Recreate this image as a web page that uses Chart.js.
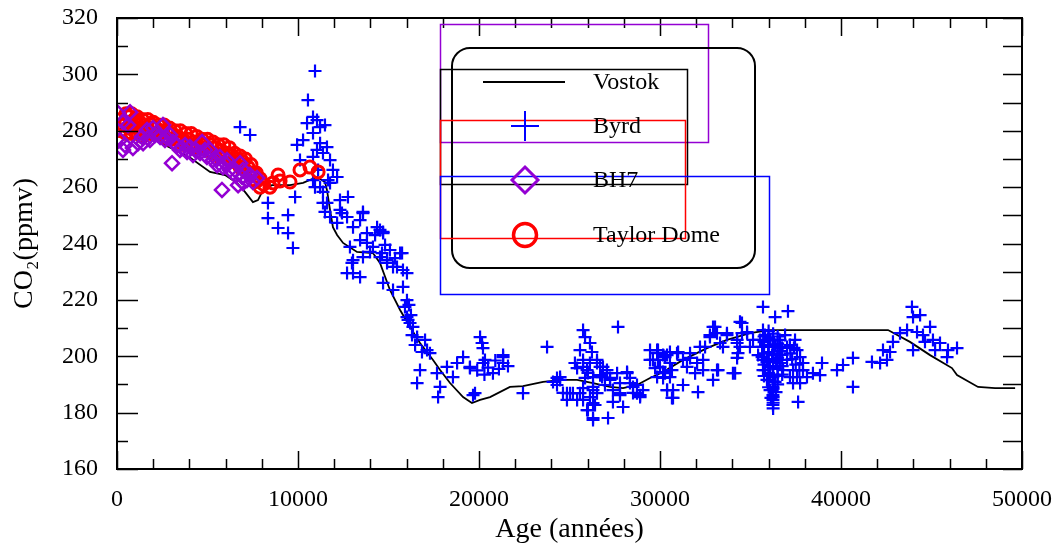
<!DOCTYPE html>
<html>
<head>
<meta charset="utf-8">
<script src="https://cdn.jsdelivr.net/npm/chart.js@4.4.1/dist/chart.umd.min.js"></script>
<style>
  html, body { margin: 0; padding: 0; background: #fff; }
  canvas { display: block; }
</style>
</head>
<body>
<canvas id="co2" width="1057" height="546"></canvas>
<script>
// tick labels
const xTicks = [0, 10000, 20000, 30000, 40000, 50000];
const yTicks = [160, 180, 200, 220, 240, 260, 280, 300, 320];

// Vostok: [age, co2]
const vostok = [
  [0, 281], [1820, 277.5], [4030, 270.5], [5140, 265.4], [5970, 264.3], [6630, 261.5],
  [7070, 258.3], [7510, 254.7], [7790, 255.4], [8070, 259.0], [8560, 260.7], [9560, 260.7],
  [10280, 261.5], [11050, 263.6], [11490, 261.8], [11600, 259.0], [11770, 251.9], [11930, 245.8],
  [12160, 243.0], [12490, 240.2], [13260, 237.0], [14140, 236.6], [14530, 233.1], [15080, 223.5],
  [15640, 216.4], [16190, 210.4], [16740, 204.7], [17460, 198.7], [17850, 195.1], [18400, 190.5],
  [19120, 185.5], [19610, 183.4], [20060, 184.5], [20610, 185.5], [21710, 189.1], [22430, 189.4],
  [23540, 190.9], [24640, 191.6], [25420, 191.6], [26300, 190.5], [27240, 189.1], [27960, 188.7],
  [28730, 189.8], [29450, 192.3], [30170, 194.4], [31270, 198.7], [32600, 202.9], [33700, 205.8],
  [34970, 208.2], [36040, 209.3], [39560, 209.3], [42600, 209.3], [43810, 205.1], [44920, 200.4],
  [46130, 195.8], [46410, 193.3], [47570, 189.1], [48510, 188.7], [49620, 188.7]
];

// Byrd: [age, co2]
const byrd = [
  [6800, 281.3], [7350, 278.5], [8340, 254.4], [8340, 249.0], [8900, 245.5], [9450, 250.1],
  [9450, 243.7], [9720, 238.4], [9840, 256.5], [10110, 269.6], [9950, 275.0], [10280, 276.7],
  [10550, 290.9], [10940, 301.2], [10830, 284.9], [11050, 283.8], [11220, 281.3], [11490, 282.0],
  [11220, 275.6], [11050, 273.2], [10830, 270.7], [11380, 272.1], [11600, 274.2], [11770, 269.6],
  [11930, 266.1], [11110, 266.1], [10830, 262.5], [11220, 260.0], [11770, 261.5], [12160, 263.6],
  [11380, 258.3], [11600, 254.4], [11770, 249.4], [12320, 255.4], [12760, 256.5], [12320, 251.9],
  [12710, 249.4], [13040, 245.8], [13590, 250.8], [13430, 241.2], [13810, 243.7], [14370, 245.8],
  [14700, 243.7], [14140, 238.8], [14640, 236.6], [14920, 234.1], [15250, 231.7], [15750, 236.6],
  [15800, 230.6], [13040, 234.1], [13590, 235.2], [12710, 229.5],
  [10500, 282.7], [10830, 279.2], [11660, 262.5], [10940, 260.0], [11380, 254.4], [11490, 251.2],
  [12430, 250.8], [12160, 247.3], [13590, 251.2], [13430, 248.3], [14700, 244.1], [12870, 238.8],
  [13810, 240.2], [13980, 237.0], [14530, 235.2], [14920, 233.1], [15640, 236.6], [15470, 231.7],
  [16020, 229.5], [12980, 233.1], [13040, 229.5], [13430, 228.1], [14700, 226.0], [15250, 223.5],
  [15800, 224.6], [16020, 219.9], [15910, 217.5], [16020, 213.9], [16190, 211.8], [16350, 210.4],
  [16580, 206.8], [17130, 202.2], [17290, 201.1], [16740, 195.1], [16580, 190.5], [17680, 194.0],
  [17850, 189.1], [17740, 185.5], [18230, 196.2], [18790, 197.6], [19120, 199.7], [19500, 196.2],
  [20060, 206.8], [20170, 204.7], [20220, 197.6], [20770, 194.0], [19670, 186.2], [18560, 192.6],
  [16130, 218.2], [16240, 214.6], [16080, 212.9], [16300, 207.5], [16470, 204.0], [16850, 201.5],
  [17020, 205.8], [14260, 243.0], [14810, 239.5], [15080, 237.7], [14530, 244.8], [15360, 234.8],
  [23760, 203.3], [27680, 210.4], [21330, 199.7], [21330, 197.6], [20220, 202.9], [20330, 198.7],
  [19500, 195.8], [19780, 186.9], [21330, 200.4], [22430, 186.9], [24480, 191.6], [25030, 186.9],
  [24860, 184.5], [25750, 209.3], [25860, 206.8], [26130, 204.7], [25580, 202.2], [25750, 198.7],
  [25420, 195.8], [25970, 195.1], [26520, 197.6], [26850, 196.2], [27070, 194.0], [27240, 192.3],
  [27630, 194.0], [28180, 194.4], [28340, 192.3], [24310, 192.3], [24310, 189.8], [24860, 186.9],
  [25190, 186.9], [25580, 186.9], [25420, 184.5], [25750, 188.7], [26300, 189.1], [26130, 185.5],
  [26520, 186.9], [25970, 180.9], [26300, 177.4], [27130, 178.1], [27960, 182.0], [27400, 183.8],
  [27790, 186.9], [28510, 189.1], [28730, 186.9], [29060, 188.0], [29450, 202.2], [29840, 201.1],
  [29890, 198.7], [30390, 200.4], [30550, 197.6], [30170, 194.4], [30550, 192.6], [30720, 188.0],
  [29840, 192.6], [30940, 201.1], [31270, 198.7], [31490, 196.2], [31660, 201.1], [32210, 203.3],
  [32380, 198.7], [32380, 195.1], [32930, 210.4], [33150, 208.2], [32760, 206.8], [33700, 208.2],
  [33480, 203.3], [33150, 195.1], [32930, 191.6], [32100, 187.3], [31270, 189.8], [30720, 185.2],
  [34030, 194.0], [34260, 205.8], [34530, 211.8], [34810, 208.2], [34420, 203.3], [34310, 201.1],
  [35140, 205.8], [35690, 209.3], [35690, 203.3], [35690, 198.7], [35690, 195.1],
  [26240, 201.5], [26690, 193.3], [26960, 189.8], [25860, 192.3], [26410, 182.7],
  [28900, 186.2], [29450, 198.7], [29890, 202.2], [30280, 199.7], [30550, 201.5], [31000, 201.5],
  [29730, 195.8], [30660, 195.1], [30170, 192.3], [30390, 188.0], [30660, 185.2], [31660, 199.4],
  [32050, 197.6], [31940, 194.0], [32490, 203.3], [32760, 207.5], [33040, 210.4], [33210, 195.1],
  [33320, 204.7], [33700, 207.5], [34150, 194.0], [34260, 204.7], [34420, 212.2], [34530, 208.2],
  [34810, 208.6], [34260, 199.4], [34970, 203.3], [35690, 217.5], [36360, 213.9], [37070, 216.0],
  [35640, 203.3], [35640, 199.7], [35970, 205.8], [36240, 203.3], [36630, 205.8], [37020, 203.3],
  [35800, 195.1], [36080, 196.2], [36240, 192.6], [35910, 191.6], [36240, 189.1], [36240, 186.2],
  [36240, 182.7], [36240, 184.5], [36630, 197.6], [36800, 195.1], [37020, 198.7], [37180, 192.6],
  [37570, 192.6], [37350, 195.1], [37740, 199.7], [37570, 202.2], [37900, 195.1], [38120, 192.6],
  [37740, 190.5], [37350, 190.5], [37900, 197.6], [38450, 194.0], [38950, 197.6], [37630, 183.8],
  [39780, 195.1], [40660, 199.4], [40660, 189.1], [41710, 198.0], [42160, 197.6], [42320, 202.2],
  [42710, 201.5], [42540, 198.7], [42870, 205.1], [43260, 208.2], [43650, 209.3], [43920, 217.5],
  [43980, 213.9], [44370, 214.6], [44200, 208.6], [44530, 207.5], [43980, 202.2], [44640, 205.1],
  [44920, 210.4], [45080, 205.8], [45200, 202.2], [45470, 204.7], [45860, 199.7], [45910, 202.2],
  [46410, 202.9],
  [35800, 207.5], [36080, 205.8], [35970, 201.5], [36360, 204.0], [36190, 200.4], [36410, 197.9],
  [36080, 193.3], [36360, 190.9], [36080, 188.0], [36410, 187.3], [36130, 185.2], [36470, 199.0],
  [36630, 201.8], [35910, 198.0], [36910, 207.5], [37180, 204.0], [37460, 205.8], [35530, 205.8],
  [35420, 200.4], [38840, 193.3], [40110, 196.9],
  [36000, 209.0], [36000, 206.5], [36000, 204.0], [36000, 201.5], [36000, 199.0], [36000, 196.5],
  [36000, 194.0], [36000, 191.5], [36000, 189.0], [36250, 208.0], [36250, 205.5], [36250, 201.0],
  [36250, 198.5], [36250, 196.0], [36250, 193.5], [36250, 191.0], [36250, 188.5], [36250, 185.5],
  [36250, 183.5], [36250, 181.5], [36500, 207.0], [36500, 204.5], [36500, 202.0], [36500, 199.5],
  [36500, 195.5], [36500, 193.0], [36500, 190.0], [36750, 203.0], [36750, 200.5], [36750, 196.5],
  [36750, 193.5], [35750, 207.0], [35750, 205.0], [35750, 201.0], [35750, 197.0], [35750, 193.0],
  [37300, 199.0], [37500, 197.0], [37700, 195.0], [37200, 201.0], [37400, 203.0],
  [25300, 197.6], [25750, 196.2], [26130, 197.6], [26520, 198.7], [26690, 196.2], [27070, 195.1],
  [26020, 194.1], [26300, 192.6], [26800, 192.6], [27240, 191.6], [28180, 194.0], [27790, 190.5],
  [28340, 190.5], [28730, 189.8], [28510, 187.0], [28900, 185.5], [27790, 186.2], [27400, 188.0],
  [26300, 188.0], [25750, 184.5], [26300, 183.4], [24640, 187.0], [24090, 190.9], [24480, 192.6],
  [26020, 180.9], [26300, 178.1], [29840, 202.2], [30170, 200.4], [29610, 198.7], [30000, 196.2],
  [30280, 194.0], [30390, 188.0],
  [20500, 196.0], [20900, 198.5], [21100, 195.5], [19900, 195.0], [20300, 193.5], [21600, 196.5]
];

// BH7: [age, co2]
const bh7 = [
  [50, 286.3], [720, 286.6], [330, 283.1], [610, 282.0], [170, 276.7], [330, 273.2],
  [440, 274.9], [880, 273.9], [1160, 275.6], [1440, 275.6], [1380, 277.8], [1710, 277.4],
  [1660, 280.3], [1990, 281.0], [2210, 279.5], [2540, 282.0], [2380, 277.8], [2760, 277.4],
  [3090, 276.0], [3040, 268.5], [3320, 274.9], [3590, 273.9], [3870, 272.5], [4030, 274.2],
  [4200, 271.4], [4700, 276.0], [4590, 272.1], [4970, 270.7], [5140, 273.2], [5300, 269.6],
  [5530, 267.8], [5860, 267.1], [5690, 270.7], [6080, 269.6], [6240, 266.1], [6410, 265.0],
  [5800, 259.0], [6800, 268.5], [6960, 266.1], [6910, 263.6], [7180, 262.5], [7350, 264.3],
  [7510, 261.8], [7740, 263.2], [6960, 261.5], [6690, 260.7],
  [1820, 276.7], [2100, 278.5], [2650, 276.7], [3480, 273.2], [4310, 273.2], [4860, 273.2],
  [5420, 270.3], [5970, 268.5], [6520, 266.1], [7070, 265.4], [3760, 274.9], [2930, 278.5]
];

// Taylor Dome: [age, co2]
const taylor = [
  [200, 284], [200, 280], [350, 282], [500, 286], [500, 283], [500, 279], [650, 285], [650, 281],
  [800, 286], [800, 283], [800, 279], [950, 284], [950, 280],
  [1100, 285], [1100, 282], [1100, 279], [1250, 283], [1250, 280], [1400, 284], [1400, 281], [1400, 278],
  [1550, 282], [1550, 279], [1700, 284], [1700, 280], [1850, 282], [1850, 279],
  [2000, 283], [2000, 279], [2150, 281], [2300, 282], [2300, 279], [2450, 280], [2600, 282], [2600, 278],
  [2750, 280], [2900, 281], [2900, 277], [3050, 279], [3200, 280], [3200, 277], [3350, 278],
  [3500, 280], [3500, 276], [3650, 277], [3800, 279], [3800, 275], [3950, 277], [4100, 279], [4100, 275],
  [4250, 276], [4400, 278], [4400, 274], [4550, 276], [4700, 277], [4700, 274], [4850, 275],
  [5000, 277], [5000, 273], [5150, 275], [5300, 276], [5300, 272], [5450, 274],
  [5600, 275], [5600, 271], [5750, 273], [5900, 275], [5900, 271], [6050, 272], [6200, 274], [6200, 270],
  [6350, 271], [6500, 272], [6500, 269], [6650, 270],
  [6800, 271], [6800, 267], [6950, 269], [7100, 270], [7100, 266], [7250, 267], [7400, 268], [7400, 265],
  [7550, 265], [7700, 265], [7700, 262], [7900, 263], [7900, 260], [8100, 261],
  [8450, 260.0], [8620, 261.5], [9010, 262.2], [8900, 264.3], [9560, 261.8], [10110, 266.1],
  [10660, 267.1], [11110, 265.4]
];

const SERIF = "'Liberation Serif', 'Times New Roman', 'DejaVu Serif', serif";
const BLUE = '#0000ff', RED = '#ff0000', PURPLE = '#9400d3';

const toXY = rows => rows.map(r => ({x: r[0], y: r[1]}));

// no extra room for overhanging tick labels: the frame is fixed by layout padding
const noOverhang = s => {
  s.paddingLeft = 0; s.paddingRight = 0; s.paddingTop = 0; s.paddingBottom = 0;
};

// inward ticks on all four sides + frame
const frameTicks = {
  id: 'frameTicks',
  afterDraw(chart) {
    const {ctx, chartArea: a, scales: {x, y}} = chart;
    ctx.save();
    ctx.strokeStyle = '#000';
    ctx.lineWidth = 1.5;
    ctx.beginPath();
    for (let v = 0; v <= 50000; v += 2000) {
      const px = Math.round(x.getPixelForValue(v)) + 0.5;
      const len = v % 10000 === 0 ? 18 : 10;
      ctx.moveTo(px, a.bottom); ctx.lineTo(px, a.bottom - len);
      ctx.moveTo(px, a.top); ctx.lineTo(px, a.top + len);
    }
    for (let v = 160; v <= 320; v += 10) {
      const py = Math.round(y.getPixelForValue(v)) + 0.5;
      const len = v % 20 === 0 ? 21 : 11;
      ctx.moveTo(a.left, py); ctx.lineTo(a.left + len, py);
      ctx.moveTo(a.right, py); ctx.lineTo(a.right - 19, py);
    }
    ctx.stroke();
    ctx.lineWidth = 2;
    ctx.strokeRect(a.left, a.top, a.right - a.left, a.bottom - a.top);
    ctx.restore();
  }
};

// legend as drawn in the original (boxes offset from each other)
const oddLegend = {
  id: 'oddLegend',
  afterDraw(chart) {
    const ctx = chart.ctx;
    ctx.save();
    ctx.lineWidth = 1.5;
    ctx.strokeStyle = PURPLE;
    ctx.strokeRect(440.5, 24.5, 268, 118);
    ctx.strokeStyle = '#000';
    ctx.lineWidth = 2;
    ctx.beginPath();
    ctx.roundRect(452, 48, 303, 220, 18);
    ctx.stroke();
    ctx.lineWidth = 1.5;
    ctx.strokeRect(440.5, 69.5, 247, 115);
    ctx.strokeStyle = RED;
    ctx.strokeRect(440.5, 120.5, 245, 118);
    ctx.strokeStyle = BLUE;
    ctx.strokeRect(440.5, 176.5, 329, 118);

    const mx = 525;
    // Vostok line
    ctx.strokeStyle = '#000';
    ctx.lineWidth = 1.8;
    ctx.beginPath();
    ctx.moveTo(483, 82); ctx.lineTo(565, 82);
    ctx.stroke();
    // Byrd cross
    ctx.strokeStyle = BLUE;
    ctx.lineWidth = 2;
    ctx.beginPath();
    ctx.moveTo(mx - 14, 126); ctx.lineTo(mx + 14, 126);
    ctx.moveTo(mx, 111); ctx.lineTo(mx, 141);
    ctx.stroke();
    // BH7 diamond
    ctx.strokeStyle = PURPLE;
    ctx.lineWidth = 3;
    ctx.beginPath();
    ctx.moveTo(mx, 167); ctx.lineTo(mx + 13, 180); ctx.lineTo(mx, 193); ctx.lineTo(mx - 13, 180);
    ctx.closePath();
    ctx.stroke();
    // Taylor Dome circle
    ctx.strokeStyle = RED;
    ctx.lineWidth = 3.5;
    ctx.beginPath();
    ctx.arc(mx, 235, 11.5, 0, Math.PI * 2);
    ctx.stroke();

    ctx.fillStyle = '#000';
    ctx.font = '24px ' + SERIF;
    ctx.textBaseline = 'middle';
    ctx.fillText('Vostok', 593, 83);
    ctx.fillText('Byrd', 593, 127);
    ctx.fillText('BH7', 593, 181);
    ctx.fillText('Taylor Dome', 593, 236);
    ctx.restore();
  }
};

new Chart(document.getElementById('co2'), {
  type: 'scatter',
  data: {
    datasets: [
      {
        label: 'BH7', data: toXY(bh7), order: 1,
        pointStyle: 'rectRot', pointRadius: 7, borderWidth: 2.5,
        borderColor: PURPLE, backgroundColor: 'rgba(0,0,0,0)'
      },
      {
        label: 'Taylor Dome', data: toXY(taylor), order: 2,
        pointStyle: 'circle', pointRadius: 6, borderWidth: 3,
        borderColor: RED, backgroundColor: 'rgba(0,0,0,0)'
      },
      {
        label: 'Byrd', data: toXY(byrd), order: 3,
        pointStyle: 'cross', pointRadius: 6.5, borderWidth: 2.2,
        borderColor: BLUE, backgroundColor: BLUE
      },
      {
        label: 'Vostok', data: toXY(vostok), order: 4, type: 'line',
        showLine: true, pointRadius: 0, borderWidth: 1.8,
        borderColor: '#000', fill: false, tension: 0
      }
    ]
  },
  options: {
    responsive: false,
    animation: false,
    devicePixelRatio: 1,
    layout: { padding: { top: 18, right: 35, left: 0, bottom: 0 } },
    plugins: { legend: { display: false }, tooltip: { enabled: false } },
    scales: {
      x: {
        type: 'linear', min: 0, max: 50000,
        afterFit: s => { s.height = 77; noOverhang(s); },
        afterBuildTicks: s => { s.ticks = xTicks.map(v => ({value: v})); },
        grid: { display: false }, border: { display: false },
        ticks: { color: '#000', font: { family: SERIF, size: 24 }, padding: 8, maxRotation: 0,
                 callback: v => String(v) },
        title: { display: true, text: 'Age (années)', color: '#000',
                 font: { family: SERIF, size: 28 }, padding: { top: 0, bottom: 0 } }
      },
      y: {
        min: 160, max: 320,
        afterFit: s => { s.width = 117; noOverhang(s); },
        afterBuildTicks: s => { s.ticks = yTicks.map(v => ({value: v})); },
        grid: { display: false }, border: { display: false },
        ticks: { color: '#000', font: { family: SERIF, size: 24 }, padding: 11,
                 callback: v => String(v) },
        title: { display: true, text: 'CO₂(ppmv)', color: '#000',
                 font: { family: SERIF, size: 28 }, padding: { top: 8, bottom: 0 } }
      }
    }
  },
  plugins: [frameTicks, oddLegend]
});
</script>
</body>
</html>
